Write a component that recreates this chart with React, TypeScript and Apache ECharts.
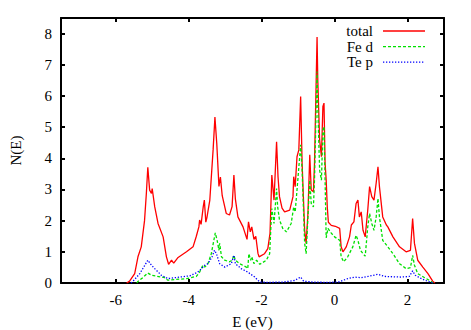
import React, { useEffect, useRef } from "react";
import * as echarts from "echarts";

const xTicks = [-6, -4, -2, 0, 2];
const yTicks = [0, 1, 2, 3, 4, 5, 6, 7, 8];
const seriesNames = ["total", "Fe d", "Te p"];
const seriesColors = ["#ff0000", "#00e000", "#0000ff"];
const seriesDash: (number[] | "solid")[] = ["solid", [3, 2], [1.3, 1.7]];

const total: [number, number][] = [
  [-5.7, 0], [-5.62, 0.06], [-5.48, 0.3], [-5.39, 0.84], [-5.3, 1.16], [-5.21, 2.0], [-5.16, 2.87],
  [-5.12, 3.71], [-5.07, 2.98], [-5.02, 2.87], [-5.0, 3.03], [-4.93, 2.44], [-4.84, 1.91], [-4.7, 1.48],
  [-4.61, 0.84], [-4.55, 0.6], [-4.47, 0.73], [-4.41, 0.64], [-4.29, 0.82], [-4.06, 1.0], [-3.88, 1.16],
  [-3.79, 1.5], [-3.72, 1.8], [-3.7, 2.02], [-3.66, 1.88], [-3.6, 2.45], [-3.57, 2.66], [-3.53, 1.95],
  [-3.5, 2.1], [-3.42, 2.66], [-3.33, 4.27], [-3.28, 5.32], [-3.23, 4.48], [-3.17, 3.1], [-3.13, 3.4],
  [-3.08, 2.8], [-2.97, 2.23], [-2.88, 2.18], [-2.81, 2.45], [-2.76, 3.46], [-2.72, 2.7], [-2.65, 2.12],
  [-2.51, 1.8], [-2.4, 1.4], [-2.36, 1.96], [-2.31, 1.64], [-2.27, 1.8], [-2.21, 1.4], [-2.16, 1.5],
  [-2.1, 0.95], [-2.07, 0.84], [-1.92, 0.94], [-1.83, 1.1], [-1.77, 1.59], [-1.72, 3.46], [-1.66, 2.66],
  [-1.59, 4.53], [-1.55, 3.4], [-1.51, 2.77], [-1.44, 2.4], [-1.37, 2.28], [-1.23, 2.34], [-1.14, 2.77],
  [-1.12, 3.41], [-1.08, 3.09], [-1.03, 4.05], [-0.98, 4.27], [-0.93, 5.98], [-0.89, 3.84], [-0.82, 1.69],
  [-0.78, 1.27], [-0.73, 2.23], [-0.68, 4.11], [-0.64, 2.98], [-0.58, 2.93], [-0.55, 3.84], [-0.48, 7.89],
  [-0.46, 6.52], [-0.41, 4.59], [-0.36, 4.05], [-0.32, 5.66], [-0.29, 5.77], [-0.26, 3.84], [-0.23, 3.3],
  [-0.2, 2.44], [-0.17, 1.95], [-0.09, 1.85], [0.02, 1.82], [0.14, 1.75], [0.18, 1.16], [0.23, 1.0],
  [0.32, 1.16], [0.41, 1.48], [0.46, 1.86], [0.53, 1.96], [0.59, 2.55], [0.64, 2.66], [0.68, 2.12],
  [0.73, 2.28], [0.78, 1.69], [0.84, 1.48], [0.91, 2.34], [0.96, 3.09], [1.02, 2.77], [1.08, 2.66],
  [1.14, 3.2], [1.19, 3.73], [1.23, 3.09], [1.32, 2.12], [1.42, 1.86], [1.46, 1.8], [1.6, 1.48],
  [1.78, 1.16], [1.96, 1.0], [2.08, 1.05], [2.14, 2.07], [2.19, 1.27], [2.28, 0.73], [2.42, 0.51],
  [2.56, 0.3], [2.69, 0.06], [2.75, 0],
];

const feD: [number, number][] = [
  [-5.42, 0], [-5.39, 0.05], [-5.25, 0.18], [-5.12, 0.32], [-5.02, 0.25], [-4.88, 0.22], [-4.66, 0.17],
  [-4.57, 0.09], [-4.38, 0.11], [-4.06, 0.14], [-3.79, 0.21], [-3.7, 0.35], [-3.61, 0.57], [-3.56, 0.51],
  [-3.47, 0.62], [-3.38, 0.94], [-3.27, 1.61], [-3.22, 1.37], [-3.17, 1.05], [-3.15, 1.27], [-3.1, 0.84],
  [-3.01, 0.73], [-2.88, 0.68], [-2.81, 0.73], [-2.76, 0.89], [-2.72, 0.73], [-2.6, 0.62], [-2.42, 0.51],
  [-2.38, 0.46], [-2.35, 0.94], [-2.3, 0.73], [-2.27, 0.84], [-2.21, 0.62], [-2.14, 0.73], [-2.05, 0.6],
  [-1.87, 0.73], [-1.78, 0.94], [-1.75, 1.69], [-1.72, 2.39], [-1.66, 1.91], [-1.59, 3.03], [-1.56, 2.44],
  [-1.51, 2.02], [-1.42, 1.75], [-1.32, 1.64], [-1.19, 1.91], [-1.12, 2.44], [-1.08, 2.28], [-1.03, 2.98],
  [-0.93, 4.43], [-0.89, 3.62], [-0.82, 1.27], [-0.78, 0.94], [-0.73, 2.12], [-0.68, 3.3], [-0.64, 2.55],
  [-0.58, 2.44], [-0.55, 3.3], [-0.48, 6.78], [-0.46, 5.66], [-0.41, 3.62], [-0.36, 3.3], [-0.32, 4.91],
  [-0.29, 5.02], [-0.26, 3.3], [-0.23, 1.45], [-0.18, 1.75], [-0.09, 1.6], [0.0, 1.48], [0.14, 1.37],
  [0.18, 0.84], [0.25, 0.68], [0.36, 0.84], [0.5, 1.16], [0.59, 1.53], [0.64, 1.37], [0.71, 1.05],
  [0.78, 0.94], [0.84, 0.86], [0.91, 1.8], [0.96, 2.23], [1.02, 1.91], [1.08, 1.69], [1.14, 2.12],
  [1.19, 2.71], [1.23, 2.12], [1.32, 1.37], [1.46, 1.16], [1.6, 0.94], [1.78, 0.62], [1.96, 0.46],
  [2.08, 0.49], [2.14, 0.89], [2.19, 0.57], [2.28, 0.3], [2.47, 0.17], [2.65, 0.05], [2.7, 0],
];

const teP: [number, number][] = [
  [-5.58, 0], [-5.53, 0.05], [-5.34, 0.3], [-5.12, 0.73], [-5.02, 0.57], [-4.93, 0.46], [-4.75, 0.25],
  [-4.57, 0.14], [-4.25, 0.19], [-3.97, 0.23], [-3.75, 0.35], [-3.65, 0.46], [-3.56, 0.57], [-3.47, 0.62],
  [-3.36, 0.84], [-3.29, 1.05], [-3.24, 0.94], [-3.15, 0.62], [-3.01, 0.51], [-2.83, 0.62], [-2.76, 0.89],
  [-2.72, 0.62], [-2.56, 0.46], [-2.38, 0.35], [-2.19, 0.19], [-2.05, 0.03], [-1.8, 0.02], [-1.4, 0.03],
  [-1.1, 0.08], [-0.93, 0.19], [-0.85, 0.06], [-0.6, 0.03], [-0.2, 0.02], [0.1, 0.03], [0.36, 0.14],
  [0.55, 0.19], [0.73, 0.17], [0.91, 0.21], [1.19, 0.28], [1.37, 0.21], [1.83, 0.19], [2.05, 0.21],
  [2.14, 0.39], [2.21, 0.25], [2.38, 0.14], [2.56, 0.05], [2.7, 0],
];

const FONT = "'Liberation Serif', 'Times New Roman', serif";

export default function App() {
  const ref = useRef<HTMLDivElement>(null);
  useEffect(() => {
    if (!ref.current) return;
    const chart = echarts.init(ref.current, null, { renderer: "svg" });
    const axisLine = { show: true, onZero: false, lineStyle: { color: "#000", width: 2 } };
    const xBase = {
      type: "value" as const,
      min: -7.5,
      max: 3,
      splitLine: { show: false },
      axisLine,
      axisTick: { show: true, inside: true, length: 4, customValues: xTicks, lineStyle: { color: "#000", width: 2 } },
    };
    const yBase = {
      type: "value" as const,
      min: 0,
      max: 8.5,
      splitLine: { show: false },
      axisLine,
      axisTick: { show: true, inside: true, length: 4, customValues: yTicks, lineStyle: { color: "#000", width: 2 } },
    };
    // legend drawn as graphic: right-aligned text, line sample to its right
    const legendGraphic = seriesNames.flatMap((name, i) => {
      const cy = 31 + i * 15.6;
      return [
        {
          type: "text",
          x: 373,
          y: cy,
          style: { text: name, fill: "#000", font: `15px ${FONT}`, align: "right", verticalAlign: "middle" },
        },
        {
          type: "line",
          shape: { x1: 383, y1: cy, x2: 425, y2: cy },
          style: {
            stroke: seriesColors[i],
            lineWidth: 1.3,
            lineDash: seriesDash[i] === "solid" ? null : seriesDash[i],
          },
        },
      ];
    });
    chart.setOption({
      animation: false,
      backgroundColor: "#fff",
      textStyle: { fontFamily: FONT },
      grid: { left: 61, right: 27, top: 18, bottom: 47, containLabel: false, outerBoundsMode: "none" },
      graphic: legendGraphic,
      xAxis: [
        {
          ...xBase,
          position: "bottom",
          name: "E (eV)",
          nameLocation: "middle",
          nameGap: 31,
          nameTextStyle: { fontFamily: FONT, fontSize: 15, color: "#000" },
          axisLabel: { show: true, customValues: xTicks, margin: 9, fontFamily: FONT, fontSize: 15, color: "#000" },
        },
        { ...xBase, position: "top", axisLabel: { show: false } },
      ],
      yAxis: [
        {
          ...yBase,
          position: "left",
          name: "N(E)",
          nameLocation: "middle",
          nameGap: 38,
          nameTextStyle: { fontFamily: FONT, fontSize: 15, color: "#000" },
          axisLabel: { show: true, customValues: yTicks, margin: 9, fontFamily: FONT, fontSize: 15, color: "#000" },
        },
        { ...yBase, position: "right", axisLabel: { show: false } },
      ],
      series: [
        { name: seriesNames[0], type: "line", data: total, showSymbol: false, symbol: "none", color: seriesColors[0], lineStyle: { color: seriesColors[0], width: 1.3, type: seriesDash[0] } },
        { name: seriesNames[1], type: "line", data: feD, showSymbol: false, symbol: "none", color: seriesColors[1], lineStyle: { color: seriesColors[1], width: 1.3, type: seriesDash[1] } },
        { name: seriesNames[2], type: "line", data: teP, showSymbol: false, symbol: "none", color: seriesColors[2], lineStyle: { color: seriesColors[2], width: 1.3, type: seriesDash[2] } },
      ],
    });
    return () => chart.dispose();
  }, []);
  return <div ref={ref} style={{ position: "absolute", left: 0, top: 0, width: 471, height: 330 }} />;
}
